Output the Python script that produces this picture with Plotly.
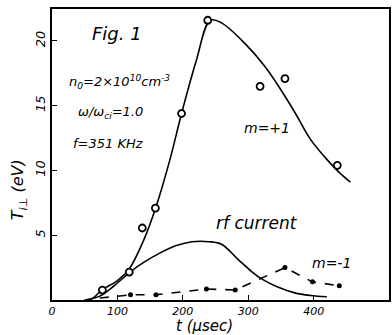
import plotly.graph_objects as go

# m=+1 measured points
t_m1 = [77, 118, 138, 158, 198, 238, 318, 356, 436]
T_m1 = [0.77, 2.16, 5.56, 7.1, 14.4, 21.6, 16.5, 17.1, 10.4]

# m=+1 fitted curve
t_m1_fit = [50, 61, 77, 100, 118, 140, 159, 180, 198, 220, 242, 259, 295, 326, 345, 371, 395, 421, 440, 456]
T_m1_fit = [0.0, 0.1, 0.8, 1.5, 2.4, 4.6, 7.2, 10.8, 14.4, 18.4, 21.6, 21.4, 19.8, 18.0, 16.6, 14.5, 12.4, 10.8, 9.8, 9.1]

# rf current curve
t_rf = [50, 73, 95, 118, 140, 164, 190, 214, 240, 259, 285, 305, 323, 345, 371, 395, 420]
T_rf = [0.0, 0.3, 1.1, 2.1, 2.9, 3.6, 4.2, 4.5, 4.5, 4.3, 3.1, 2.2, 1.55, 1.0, 0.55, 0.35, 0.25]

# m=-1 measured points and dashed connector
t_m2 = [120, 159, 236, 280, 356, 398, 439]
T_m2 = [0.4, 0.4, 0.85, 0.77, 2.5, 1.4, 1.1]
t_m2_line = [73] + t_m2
T_m2_line = [0.15] + T_m2

x_ticks = [0, 100, 200, 300, 400]
y_ticks = [5, 10, 15, 20]

FONT = "DejaVu Sans"

fig = go.Figure()
fig.add_trace(go.Scatter(x=t_m1_fit, y=T_m1_fit, mode="lines", line=dict(color="black", width=1.6, shape="spline", smoothing=1.0), hoverinfo="skip"))
fig.add_trace(go.Scatter(x=t_rf, y=T_rf, mode="lines", line=dict(color="black", width=1.6, shape="spline", smoothing=1.0), hoverinfo="skip"))
fig.add_trace(go.Scatter(x=t_m2_line, y=T_m2_line, mode="lines", line=dict(color="black", width=1.6, dash="dash"), hoverinfo="skip"))
fig.add_trace(go.Scatter(x=t_m2, y=T_m2, mode="markers", marker=dict(color="black", size=5, symbol="circle")))
fig.add_trace(go.Scatter(x=t_m1, y=T_m1, mode="markers", marker=dict(color="white", size=7, symbol="circle", line=dict(color="black", width=1.8))))

fig.update_layout(
    width=392, height=335,
    margin=dict(l=52, r=1, t=9, b=35),
    plot_bgcolor="white", paper_bgcolor="white",
    showlegend=False,
    font=dict(family=FONT, color="black", size=12, style="italic"),
    xaxis=dict(range=[0, 515], tickvals=x_ticks, ticktext=[str(v) for v in x_ticks],
               showline=True, linecolor="black", linewidth=2, mirror=True,
               ticks="inside", ticklen=5, tickcolor="black", showgrid=False, zeroline=False,
               tickfont=dict(size=11, family=FONT, style="italic")),
    yaxis=dict(range=[0, 22.47], tickvals=y_ticks, ticktext=[str(v) for v in y_ticks],
               showline=True, linecolor="black", linewidth=2, mirror=True,
               ticks="inside", ticklen=5, tickcolor="black", showgrid=False, zeroline=False,
               tickangle=-90, tickfont=dict(size=13, family=FONT, style="italic")),
)

def txt(x, y, s, size, angle=0):
    fig.add_annotation(x=x, y=y, xref="paper", yref="paper", text=s, showarrow=False,
                       textangle=angle, font=dict(size=size, family=FONT, style="italic", color="black"),
                       xanchor="center", yanchor="middle")

W, H = 339.0, 291.0
def px(xp, yp):
    return (xp - 52) / W, (300 - yp) / H

for (xp, yp, s, size) in [
    (117, 33, "Fig. 1", 18),
    (120, 82, "n<sub>0</sub>=2×10<sup>10</sup>cm<sup>-3</sup>", 13),
    (111, 113, "ω/ω<sub>ci</sub>=1.0", 13),
    (109, 143, "f=351 KHz", 13),
    (268, 128, "m=+1", 14),
    (258, 223, "rf current", 17),
    (333, 263, "m=-1", 14),
]:
    x, y = px(xp, yp)
    txt(x, y, s, size)

x, y = px(205, 326)
txt(x, y, "t (μsec)", 15)
x, y = px(18, 190)
txt(x, y, "T<sub>i⊥</sub> (eV)", 16, angle=-90)

fig.write_html("out.html", config={"displayModeBar": False},
               post_script="document.body.style.margin='0';")
